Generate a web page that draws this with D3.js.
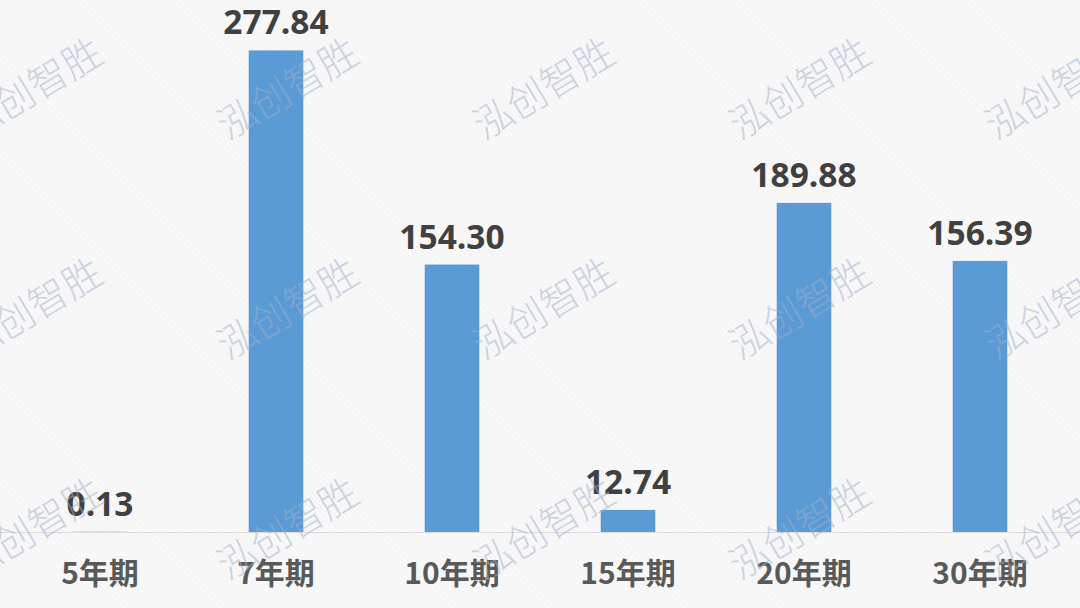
<!DOCTYPE html>
<html>
<head>
<meta charset="utf-8">
<script src="https://cdn.jsdelivr.net/npm/d3@7/dist/d3.min.js"></script>
<style>
  html, body { margin: 0; padding: 0; background: #f8f8f8; }
  svg { display: block; }
</style>
</head>
<body>
<svg id="chart" width="1080" height="608"></svg>
<script>
// Tenor buckets and their amounts
const categories = ["5年期", "7年期", "10年期", "15年期", "20年期", "30年期"];
const values = [0.13, 277.84, 154.30, 12.74, 189.88, 156.39];
const valueLabels = ["0.13", "277.84", "154.30", "12.74", "189.88", "156.39"];
const watermarkText = "泓创智胜";

const W = 1080, H = 608;
const svg = d3.select("#chart");

// background with faint diagonal texture
const defs = svg.append("defs");
const pat = defs.append("pattern")
  .attr("id", "hatch").attr("patternUnits", "userSpaceOnUse")
  .attr("width", 4).attr("height", 4)
  .attr("patternTransform", "rotate(-45)");
pat.append("rect").attr("width", 4).attr("height", 4).attr("fill", "#f8f8f8");
pat.append("line").attr("x1", 0).attr("y1", 0).attr("x2", 0).attr("y2", 4)
  .attr("stroke", "#efefef").attr("stroke-width", 1);
svg.append("rect").attr("width", W).attr("height", H).attr("fill", "url(#hatch)");

const x = d3.scaleBand()
  .domain(categories)
  .range([12, 1068])
  .paddingInner(0.69)
  .paddingOuter(0.345);

const y = d3.scaleLinear()
  .domain([0, 300])
  .range([532, 12]);

// baseline
svg.append("line")
  .attr("x1", 0).attr("x2", W)
  .attr("y1", y(0) + 0.5).attr("y2", y(0) + 0.5)
  .attr("stroke", "#dcdcdc").attr("stroke-width", 1);

// bars
svg.append("g").selectAll("rect")
  .data(values)
  .join("rect")
  .attr("x", (d, i) => x(categories[i]))
  .attr("width", x.bandwidth())
  .attr("y", d => y(d))
  .attr("height", d => y(0) - y(d))
  .attr("fill", "#5b9bd5");

// value labels
svg.append("g").selectAll("text")
  .data(values)
  .join("text")
  .attr("x", (d, i) => x(categories[i]) + x.bandwidth() / 2)
  .attr("y", d => y(d) - 16)
  .attr("text-anchor", "middle")
  .attr("font-family", "'Open Sans', 'Noto Sans', sans-serif")
  .attr("font-weight", 700)
  .attr("font-size", 33.5)
  .attr("fill", "#404040")
  .text((d, i) => valueLabels[i]);

// category axis labels
const xAxis = d3.axisBottom(x).tickSize(0).tickPadding(0);
const axisG = svg.append("g")
  .attr("transform", `translate(0, ${y(0)})`)
  .call(xAxis);
axisG.select(".domain").remove();
axisG.selectAll("text")
  .attr("dy", null)
  .attr("y", 52)
  .attr("font-family", "'Noto Sans CJK SC', 'Open Sans', sans-serif")
  .attr("font-weight", 700)
  .attr("font-size", 30)
  .attr("fill", "#595959");

// repeated diagonal watermark
const wmCols = [30, 286, 542, 798, 1054];
const wmRows = [86, 306, 526];
const wm = svg.append("g").attr("pointer-events", "none");
wmRows.forEach(cy => {
  wmCols.forEach(cx => {
    wm.append("text")
      .attr("transform", `translate(${cx},${cy}) rotate(-31)`)
      .attr("text-anchor", "middle")
      .attr("dominant-baseline", "central")
      .attr("font-family", "'Noto Sans CJK SC', sans-serif")
      .attr("font-weight", 300)
      .attr("font-size", 39)
      .attr("fill", "#a0afc8")
      .attr("fill-opacity", 0.5)
      .text(watermarkText);
  });
});
</script>
</body>
</html>
